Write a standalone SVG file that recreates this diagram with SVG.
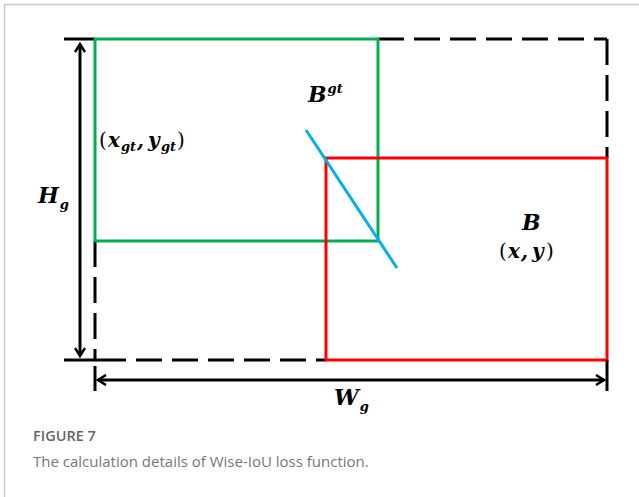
<svg xmlns="http://www.w3.org/2000/svg" width="639" height="497" viewBox="0 0 639 497">
<style>
.frame{fill:none;stroke:#c8c8c8;stroke-width:1.5}
.dash{fill:none;stroke:#000;stroke-width:3;stroke-dasharray:26 10}
.solid{fill:none;stroke:#000;stroke-width:3}
.arr{fill:none;stroke:#000;stroke-width:3}
.m{font-family:"DejaVu Serif","Liberation Serif",serif;font-weight:bold;font-style:italic;fill:#000}
.p{font-style:normal;font-weight:normal}
.cap1{font-family:"Open Sans","Noto Sans",sans-serif;font-size:14.5px;font-weight:600;fill:#666}
.cap2{font-family:"Open Sans","Noto Sans",sans-serif;font-size:15px;fill:#777}
</style>
<defs>
<marker id="ah" viewBox="0 0 12 12" refX="10" refY="6" markerWidth="12" markerHeight="12" markerUnits="userSpaceOnUse" orient="auto-start-reverse">
<path d="M2,1 L10,6 L2,11" fill="none" stroke="#000" stroke-width="2.5"/>
</marker>
</defs>
<rect width="639" height="497" fill="#fff"/>
<path class="frame" d="M4.5,497 V4.5 H639"/>
<g id="outer-box">
<path class="solid" d="M64,39 H95"/>
<path class="dash" d="M378,39 H607"/>
<path class="dash" d="M607,39 V158"/>
<path class="dash" d="M95,241 V360"/>
<path class="solid" d="M64,360 H100"/>
<path class="dash" d="M100,360 H326"/>
</g>
<g id="gt-box">
<rect x="95" y="39" width="283" height="202" fill="none" stroke="#00b050" stroke-width="3"/>
</g>
<g id="pred-box">
<rect x="326" y="158" width="281" height="202" fill="none" stroke="#ff0000" stroke-width="3"/>
</g>
<g id="connectors">
<line x1="306" y1="130" x2="397" y2="268" stroke="#00b0f0" stroke-width="3"/>
<line class="arr" x1="80" y1="44" x2="80" y2="356" marker-start="url(#ah)" marker-end="url(#ah)"/>
<line class="solid" x1="95" y1="366" x2="95" y2="391"/>
<line class="solid" x1="607" y1="360" x2="607" y2="391"/>
<line class="arr" x1="98" y1="380" x2="604" y2="380" marker-start="url(#ah)" marker-end="url(#ah)"/>
</g>
<g id="labels">
<text class="m" x="308" y="102" font-size="22">B<tspan font-size="13" dx="1" dy="-9">gt</tspan></text>
<text class="m" font-size="20" y="147"><tspan class="p" x="99">(</tspan><tspan x="108">x</tspan><tspan font-size="13" x="121" dy="4">gt</tspan><tspan x="137" dy="-4">,</tspan><tspan x="148">y</tspan><tspan font-size="13" x="161" dy="4">gt</tspan><tspan class="p" x="177" dy="-4">)</tspan></text>
<text class="m" x="38" y="203" font-size="22">H<tspan font-size="13" dx="1" dy="6">g</tspan></text>
<text class="m" x="522" y="230" font-size="22">B</text>
<text class="m" font-size="20" y="258"><tspan class="p" x="499">(</tspan><tspan x="508">x</tspan><tspan x="521">,</tspan><tspan x="532">y</tspan><tspan class="p" x="546">)</tspan></text>
<text class="m" x="334" y="405" font-size="22">W<tspan font-size="13" dx="1" dy="6">g</tspan></text>
</g>
<text class="cap1" x="33" y="441">FIGURE 7</text>
<text class="cap2" x="33" y="467">The calculation details of Wise-IoU loss function.</text>
</svg>
